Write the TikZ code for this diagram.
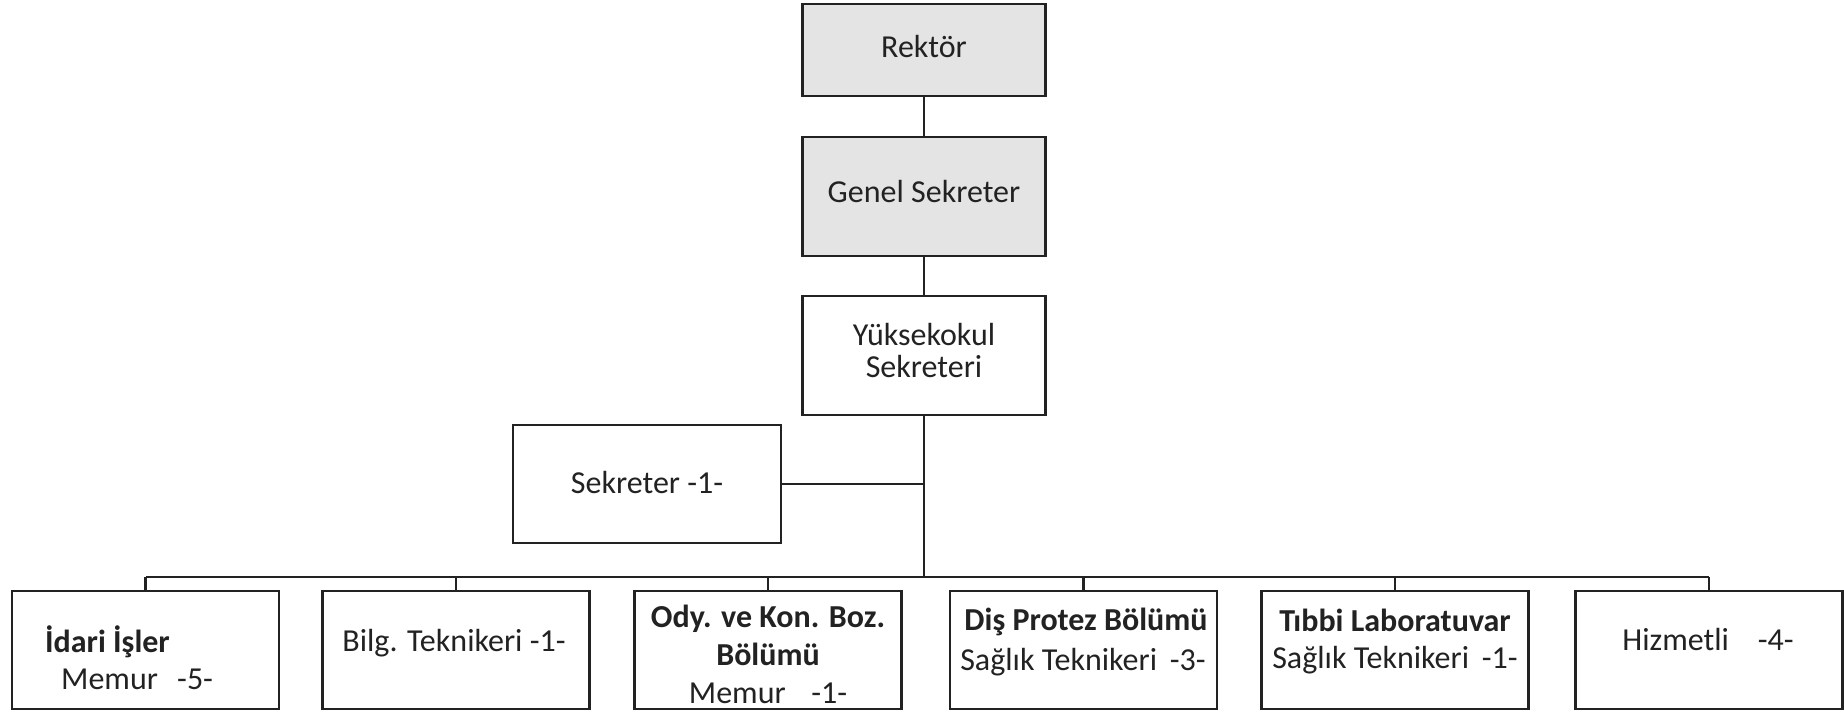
\documentclass[tikz,border=0pt]{standalone}
\usepackage{fontspec}
\setmainfont{Carlito}
\definecolor{ink}{HTML}{222222}
\definecolor{shade}{HTML}{E4E4E4}
\begin{document}
\begin{tikzpicture}[x=1pt,y=-1pt,
  box/.style={draw=ink, line width=2.2pt, inner sep=0pt, minimum width=#1, minimum height=118pt},
  box/.default=267pt,
  shadedbox/.style={box=243pt, fill=shade},
  txt/.style={text=ink, inner sep=0pt, font=\fontsize{32}{38}\selectfont, align=center},
  conn/.style={draw=ink, line width=2.2pt}]
\fill[white] (0,0) rectangle (1844,715);
\useasboundingbox (0,0) rectangle (1844,715);
% top chain
\node[shadedbox, minimum height=92pt] (rektor) at (924,50) {};
\node[txt] (rektorT) at (924,47) {Rektör};
\node[shadedbox, minimum height=119pt] (genel) at (924,196.5) {};
\node[txt] (genelT) at (924,192) {Genel Sekreter};
\node[box=243pt, minimum height=119pt] (yo) at (924,355.5) {};
\node[txt, font=\fontsize{32}{32}\selectfont] (yoT) at (924,351) {Yüksekokul\\Sekreteri};
\node[box=268pt] (sek) at (647,484) {};
\node[txt] (sekT) at (647,482) {Sekreter -1-};
% bottom row
\node[box] (b1) at (145.5,650) {};
\node[box] (b2) at (456,650) {};
\node[box] (b3) at (768,650) {};
\node[box] (b4) at (1083.5,650) {};
\node[box] (b5) at (1395,650) {};
\node[box] (b6) at (1709,650) {};
\node[txt, anchor=west] (b1a) at (45,642) {\textbf{İdari İşler}};
\node[txt, anchor=west] (b1b) at (61,679) {Memur\hspace{0.6em}-5-};
\node[txt] (b2a) at (454,643) {Bilg. Teknikeri -1-};
\node[txt] (b3a) at (768,654) {\textbf{Ody. ve Kon. Boz.}\\\textbf{Bölümü}\\Memur\hspace{0.8em}-1-};
\node[txt] (b4a) at (1086,622) {\textbf{Diş Protez Bölümü}};
\node[txt] (b4b) at (1083,662) {Sağlık Teknikeri\hspace{0.4em}-3-};
\node[txt] (b5a) at (1395,620) {\textbf{Tıbbi Laboratuvar}};
\node[txt] (b5b) at (1395,660) {Sağlık Teknikeri\hspace{0.4em}-1-};
\node[txt] (b6a) at (1708,639) {Hizmetli\hspace{0.9em}-4-};
% connectors
\draw[conn] (rektor) -- (genel);
\draw[conn] (genel) -- (yo);
\coordinate (busC) at (924,577);
\coordinate (sekJ) at (924,484);
\draw[conn] (yo.south) -- (busC);
\draw[conn] (sek.east) -- (sekJ);
\draw[conn] (b1.north |- busC) -- (b6.north |- busC);
\foreach \b in {b1,b2,b3,b4,b5,b6}{
  \draw[conn] (\b.north |- busC) -- (\b.north);
}
\end{tikzpicture}
\end{document}
